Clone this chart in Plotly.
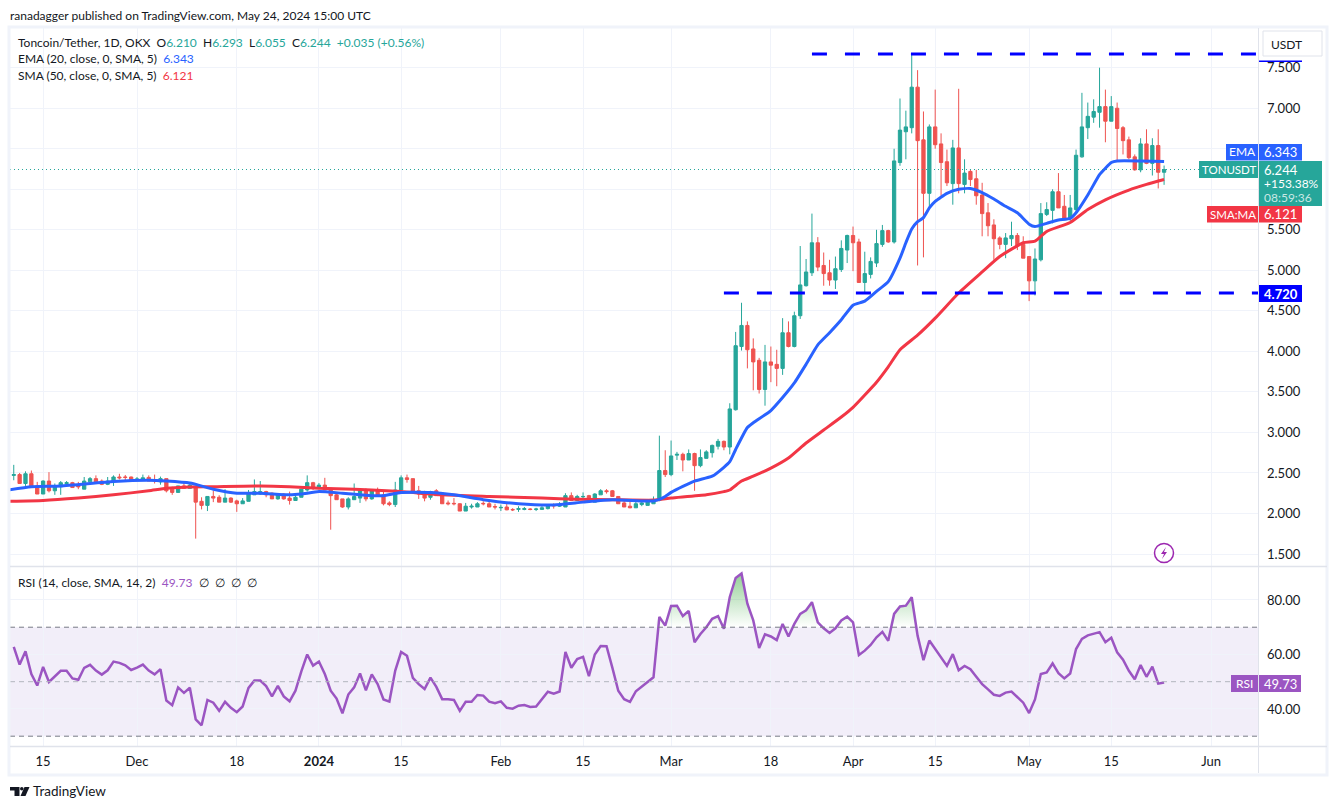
import pandas as pd
import plotly.graph_objects as go

W, H = 1337, 809
FONT = "Lato"
TEXT = "#131722"
UP = "#26a69a"
DOWN = "#ef5350"
BLUE = "#2962ff"
RED = "#f23645"
PURPLE = "#9b55c2"
GRID = "#f0f3fa"
EDGE = "#e0e3eb"

open_prices = [
    # Nov
    2.47, 2.48, 2.37, 2.49, 2.34, 2.24, 2.40, 2.28, 2.33, 2.37, 2.38, 2.34, 2.30, 2.39, 2.43, 2.40, 2.36, 2.39, 2.45, 2.45, 2.45,
    # Dec
    2.42, 2.42, 2.445, 2.415, 2.39, 2.43, 2.30, 2.26, 2.34, 2.31, 2.33, 2.15, 2.10, 2.21, 2.20, 2.14, 2.19, 2.155, 2.12, 2.15, 2.23, 2.24, 2.27, 2.25, 2.18, 2.24, 2.19, 2.16, 2.20, 2.29, 2.38,
    # Jan
    2.32, 2.35, 2.31, 2.23, 2.18, 2.08, 2.17, 2.19, 2.28, 2.18, 2.28, 2.23, 2.13, 2.11, 2.29, 2.44, 2.43, 2.28, 2.24, 2.20, 2.28, 2.23, 2.13, 2.125, 2.12, 2.03, 2.08, 2.08, 2.125, 2.12, 2.085,
    # Feb
    2.07, 2.08, 2.05, 2.05, 2.05, 2.055, 2.05, 2.05, 2.06, 2.10, 2.09, 2.08, 2.22, 2.16, 2.205, 2.22, 2.14, 2.23, 2.28, 2.28, 2.21, 2.13, 2.09, 2.07, 2.11, 2.10, 2.12, 2.16, 2.53,
    # Mar
    2.48, 2.72, 2.73, 2.66, 2.74, 2.59, 2.68, 2.75, 2.83, 2.89, 2.82, 3.28, 4.06, 4.32, 4.03, 3.89, 3.53, 3.87, 3.84, 3.79, 4.23, 4.06, 4.44, 4.81, 4.97, 5.34, 5.06, 4.97, 4.88, 5.01, 5.25,
    # Apr
    5.43, 5.35, 4.85, 4.95, 5.09, 5.32, 5.49, 5.35, 6.33, 6.71, 6.76, 7.26, 6.61, 5.95, 6.77, 6.56, 6.34, 6.07, 6.51, 6.06, 6.22, 6.13, 5.93, 5.71, 5.56, 5.40, 5.32, 5.39, 5.43, 5.32,
    # May
    5.17, 4.87, 5.13, 5.69, 5.74, 5.97, 5.79, 5.64, 5.75, 6.40, 6.76, 6.89, 6.95, 7.02, 6.84, 7.00, 6.76, 6.61, 6.40, 6.24, 6.56, 6.32, 6.54, 6.21,
]
high_prices = [
    2.60, 2.50, 2.52, 2.53, 2.39, 2.41, 2.51, 2.37, 2.40, 2.40, 2.39, 2.39, 2.45, 2.45, 2.47, 2.42, 2.45, 2.47, 2.49, 2.475, 2.455,
    2.45, 2.48, 2.47, 2.48, 2.455, 2.43, 2.33, 2.34, 2.38, 2.375, 2.33, 2.20, 2.21, 2.28, 2.225, 2.30, 2.20, 2.17, 2.19, 2.29, 2.42, 2.40, 2.28, 2.26, 2.25, 2.25, 2.27, 2.23, 2.30, 2.47, 2.39,
    2.375, 2.44, 2.31, 2.25, 2.18, 2.20, 2.37, 2.30, 2.31, 2.30, 2.32, 2.27, 2.15, 2.39, 2.47, 2.48, 2.43, 2.34, 2.28, 2.28, 2.30, 2.25, 2.16, 2.19, 2.125, 2.13, 2.12, 2.14, 2.15, 2.15, 2.12,
    2.11, 2.12, 2.065, 2.09, 2.08, 2.065, 2.07, 2.09, 2.11, 2.125, 2.14, 2.25, 2.26, 2.23, 2.26, 2.23, 2.25, 2.30, 2.30, 2.29, 2.21, 2.17, 2.145, 2.17, 2.16, 2.17, 2.21, 2.96, 2.78,
    2.90, 2.76, 2.75, 2.79, 2.75, 2.79, 2.78, 2.85, 2.92, 2.90, 3.36, 4.24, 4.60, 4.37, 4.16, 3.92, 4.08, 4.06, 4.02, 4.41, 4.37, 4.49, 5.30, 5.14, 5.70, 5.41, 5.22, 5.13, 5.17, 5.37, 5.44,
    5.54, 5.39, 5.23, 5.16, 5.50, 5.56, 5.50, 6.50, 7.12, 6.97, 7.68, 7.47, 6.96, 6.80, 7.23, 6.69, 6.49, 6.61, 7.24, 6.37, 6.25, 6.24, 6.08, 5.83, 5.63, 5.42, 5.46, 5.60, 5.46, 5.42,
    5.17, 5.27, 5.83, 5.84, 6.00, 6.20, 5.93, 5.93, 6.49, 7.19, 7.07, 7.11, 7.50, 7.23, 7.15, 7.07, 6.78, 6.65, 6.43, 6.63, 6.74, 6.63, 6.74, 6.293,
]
low_prices = [
    2.41, 2.37, 2.34, 2.33, 2.24, 2.24, 2.26, 2.23, 2.23, 2.34, 2.32, 2.30, 2.30, 2.38, 2.38, 2.35, 2.35, 2.34, 2.42, 2.41, 2.40,
    2.41, 2.42, 2.40, 2.37, 2.355, 2.26, 2.23, 2.26, 2.31, 2.31, 1.69, 2.05, 2.03, 2.14, 2.14, 2.14, 2.13, 2.02, 2.12, 2.15, 2.23, 2.23, 2.20, 2.18, 2.17, 2.17, 2.11, 2.16, 2.20, 2.27, 2.29,
    2.30, 2.29, 1.80, 2.17, 2.07, 2.05, 2.17, 2.13, 2.15, 2.17, 2.21, 2.10, 2.09, 2.08, 2.29, 2.38, 2.27, 2.18, 2.15, 2.17, 2.22, 2.12, 2.10, 2.10, 2.03, 2.03, 2.06, 2.08, 2.10, 2.08, 2.05,
    2.03, 2.04, 2.03, 2.02, 2.04, 2.04, 2.03, 2.05, 2.05, 2.06, 2.08, 2.08, 2.16, 2.16, 2.18, 2.14, 2.14, 2.23, 2.245, 2.21, 2.12, 2.08, 2.065, 2.07, 2.09, 2.10, 2.12, 2.15, 2.45,
    2.46, 2.66, 2.52, 2.66, 2.28, 2.57, 2.68, 2.69, 2.79, 2.78, 2.73, 3.27, 4.01, 3.79, 3.52, 3.48, 3.33, 3.62, 3.57, 3.71, 4.05, 4.05, 4.40, 4.80, 4.93, 4.99, 4.81, 4.81, 4.77, 4.98, 5.09,
    4.99, 4.85, 4.72, 4.90, 5.04, 5.29, 5.34, 5.33, 6.29, 6.37, 6.69, 5.06, 5.16, 5.76, 6.50, 5.92, 6.04, 5.81, 5.95, 5.95, 6.04, 5.81, 5.42, 5.42, 5.13, 5.26, 5.15, 5.30, 5.25, 5.15,
    4.62, 4.69, 5.11, 5.67, 5.58, 5.77, 5.62, 5.61, 5.71, 6.39, 6.62, 6.82, 6.76, 6.58, 6.84, 6.34, 6.43, 6.37, 6.23, 6.21, 6.31, 6.17, 6.01, 6.055,
]
close_prices = [
    2.48, 2.37, 2.49, 2.33, 2.24, 2.40, 2.28, 2.34, 2.38, 2.38, 2.32, 2.33, 2.40, 2.43, 2.39, 2.36, 2.40, 2.45, 2.44, 2.445, 2.40,
    2.425, 2.44, 2.40, 2.405, 2.43, 2.28, 2.26, 2.34, 2.31, 2.35, 2.14, 2.10, 2.21, 2.19, 2.14, 2.19, 2.14, 2.12, 2.155, 2.24, 2.27, 2.27, 2.23, 2.18, 2.24, 2.18, 2.16, 2.20, 2.30, 2.38, 2.32,
    2.35, 2.29, 2.22, 2.17, 2.08, 2.18, 2.21, 2.28, 2.18, 2.28, 2.22, 2.12, 2.11, 2.29, 2.44, 2.42, 2.27, 2.24, 2.19, 2.27, 2.22, 2.12, 2.12, 2.12, 2.03, 2.09, 2.09, 2.12, 2.12, 2.08, 2.08,
    2.075, 2.045, 2.045, 2.06, 2.06, 2.05, 2.055, 2.07, 2.10, 2.095, 2.105, 2.22, 2.16, 2.21, 2.21, 2.15, 2.24, 2.28, 2.27, 2.21, 2.12, 2.08, 2.07, 2.12, 2.13, 2.15, 2.17, 2.53, 2.48,
    2.71, 2.73, 2.66, 2.74, 2.59, 2.69, 2.76, 2.84, 2.89, 2.82, 3.29, 4.07, 4.32, 4.02, 3.87, 3.53, 3.87, 3.83, 3.79, 4.23, 4.06, 4.44, 4.82, 4.98, 5.34, 5.04, 4.96, 4.88, 5.02, 5.27, 5.43,
    5.34, 4.85, 4.96, 5.11, 5.33, 5.49, 5.35, 6.35, 6.73, 6.77, 7.26, 6.60, 5.95, 6.77, 6.55, 6.33, 6.08, 6.51, 6.07, 6.20, 6.12, 5.92, 5.70, 5.55, 5.39, 5.32, 5.40, 5.43, 5.30, 5.15,
    4.87, 5.14, 5.70, 5.75, 5.97, 5.77, 5.64, 5.77, 6.42, 6.77, 6.90, 6.96, 7.02, 6.84, 7.02, 6.75, 6.60, 6.39, 6.24, 6.56, 6.32, 6.54, 6.21, 6.244,
]
rsi_values = [
    62.8, 56.3, 61.2, 52.8, 48.6, 55.4, 49.9, 52.0, 54.0, 54.0, 51.2, 50.7, 55.1, 56.2, 54.1, 52.6, 54.2, 57.4, 56.9, 56.0, 54.3,
    55.2, 56.3, 54.1, 52.7, 54.6, 43.1, 41.4, 47.9, 45.9, 47.8, 36.2, 34.0, 43.3, 42.3, 39.3, 42.6, 40.4, 38.8, 40.9, 47.7, 50.4, 50.4, 48.4, 44.6, 48.5, 44.6, 42.8, 46.7, 53.8, 60.0, 55.9,
    57.4, 52.8, 46.7, 43.8, 38.4, 45.3, 47.9, 53.0, 46.8, 52.7, 49.1, 43.5, 42.7, 54.1, 60.9, 59.5, 51.4, 49.1, 47.3, 51.5, 48.1, 43.6, 43.6, 43.3, 39.3, 42.6, 42.6, 45.1, 44.9, 42.7, 42.1,
    42.8, 40.4, 40.1, 41.2, 41.4, 40.7, 40.9, 43.7, 46.3, 45.6, 46.4, 60.9, 55.1, 58.3, 59.1, 52.0, 60.0, 63.1, 63.0, 55.1, 46.7, 43.6, 42.6, 46.5, 48.3, 49.9, 51.6, 73.8, 70.6,
    77.8, 77.9, 74.1, 76.0, 64.5, 67.5, 70.0, 73.1, 74.1, 69.4, 81.1, 88.1, 89.7, 78.6, 72.5, 62.4, 67.4, 66.6, 65.3, 71.2, 66.6, 71.2, 74.9, 76.2, 79.2, 71.8, 69.6, 67.9, 69.6, 72.5, 73.9,
    71.8, 59.8, 61.4, 63.5, 66.3, 68.3, 65.0, 74.9, 77.6, 77.9, 81.0, 66.9, 57.9, 65.1, 62.0, 58.9, 55.8, 60.1, 54.2, 55.8, 54.6, 51.8, 49.1, 47.2, 45.2, 44.8, 46.0, 46.4, 44.5, 42.3,
    38.5, 43.5, 52.8, 53.4, 56.7, 53.1, 51.2, 53.0, 62.0, 65.7, 67.0, 67.5, 68.2, 64.5, 66.1, 60.8, 58.1, 54.0, 50.9, 56.1, 51.8, 55.5, 49.3, 49.73,
]
candle_dates = pd.date_range("2023-11-10", "2024-05-24", freq="D")
assert len(candle_dates) == len(open_prices) == len(high_prices) == len(low_prices) == len(close_prices) == len(rsi_values)

ema_dates = ["2023-11-09", "2023-11-13", "2023-11-18", "2023-11-27", "2023-12-03", "2023-12-06", "2023-12-10", "2023-12-14",
             "2023-12-18", "2023-12-22", "2023-12-27", "2023-12-29", "2024-01-01", "2024-01-05", "2024-01-10", "2024-01-12",
             "2024-01-15", "2024-01-20", "2024-01-24", "2024-01-29", "2024-02-04", "2024-02-10", "2024-02-15", "2024-02-20",
             "2024-02-25", "2024-02-27", "2024-02-28", "2024-02-29", "2024-03-01", "2024-03-03", "2024-03-05", "2024-03-08",
             "2024-03-10", "2024-03-11", "2024-03-12", "2024-03-14", "2024-03-15", "2024-03-18", "2024-03-20", "2024-03-22",
             "2024-03-24", "2024-03-26", "2024-03-28", "2024-03-30", "2024-04-01", "2024-04-03", "2024-04-05", "2024-04-07",
             "2024-04-09", "2024-04-10", "2024-04-11", "2024-04-12", "2024-04-13", "2024-04-14", "2024-04-15", "2024-04-17",
             "2024-04-19", "2024-04-21", "2024-04-23", "2024-04-25", "2024-04-27", "2024-04-29", "2024-05-01", "2024-05-02",
             "2024-05-04", "2024-05-06", "2024-05-08", "2024-05-09", "2024-05-11", "2024-05-13", "2024-05-14", "2024-05-15",
             "2024-05-16", "2024-05-20", "2024-05-24"]
ema_values = [2.29, 2.33, 2.34, 2.395, 2.41, 2.40, 2.375, 2.30,
              2.25, 2.25, 2.23, 2.24, 2.27, 2.25, 2.22, 2.22,
              2.26, 2.26, 2.23, 2.17, 2.12, 2.105, 2.14, 2.17,
              2.155, 2.155, 2.175, 2.21, 2.26, 2.335, 2.40, 2.46,
              2.57, 2.64, 2.79, 3.06, 3.12, 3.27, 3.43, 3.61,
              3.84, 4.08, 4.23, 4.39, 4.57, 4.62, 4.74, 4.86,
              5.15, 5.34, 5.51, 5.60, 5.65, 5.77, 5.85, 5.95,
              6.00, 6.01, 5.96, 5.88, 5.79, 5.71, 5.57, 5.54,
              5.58, 5.62, 5.64, 5.71, 5.93, 6.18, 6.26, 6.33,
              6.35, 6.35, 6.343]

sma_dates = ["2023-11-09", "2023-11-15", "2023-11-21", "2023-11-27", "2023-12-03", "2023-12-06", "2023-12-09", "2023-12-14",
             "2023-12-22", "2023-12-27", "2024-01-01", "2024-01-04", "2024-01-10", "2024-01-15", "2024-01-22", "2024-01-30",
             "2024-02-08", "2024-02-14", "2024-02-20", "2024-02-27", "2024-03-01", "2024-03-07", "2024-03-10", "2024-03-11",
             "2024-03-13", "2024-03-15", "2024-03-18", "2024-03-21", "2024-03-24", "2024-03-27", "2024-03-30", "2024-04-01",
             "2024-04-05", "2024-04-07", "2024-04-09", "2024-04-12", "2024-04-15", "2024-04-19", "2024-04-23", "2024-04-26",
             "2024-04-30", "2024-05-02", "2024-05-04", "2024-05-08", "2024-05-11", "2024-05-14", "2024-05-18", "2024-05-21",
             "2024-05-24"]
sma_values = [2.15, 2.16, 2.19, 2.23, 2.28, 2.31, 2.325, 2.33,
              2.34, 2.33, 2.31, 2.305, 2.29, 2.27, 2.23, 2.21,
              2.19, 2.175, 2.17, 2.165, 2.19, 2.23, 2.27, 2.29,
              2.40, 2.46, 2.56, 2.685, 2.87, 3.03, 3.19, 3.31,
              3.62, 3.81, 4.02, 4.20, 4.41, 4.72, 4.98, 5.17,
              5.34, 5.36, 5.48, 5.59, 5.75, 5.87, 5.99, 6.06,
              6.121]

resistance_dates = ["2024-03-25", "2024-06-09"]
resistance_level = [7.67, 7.67]
support_dates = ["2024-03-10", "2024-06-09"]
support_level = [4.72, 4.72]

price_ticks = [1.5, 2.0, 2.5, 3.0, 3.5, 4.0, 4.5, 5.0, 5.5, 6.0, 6.5, 7.0, 7.5]
price_tick_labels = ["1.500", "2.000", "2.500", "3.000", "3.500", "4.000", "4.500", "5.000", "5.500", "", "", "7.000", "7.500"]
rsi_ticks = [40, 60, 80]
rsi_tick_labels = ["40.00", "60.00", "80.00"]
date_ticks = ["2023-11-15", "2023-12-01", "2023-12-18", "2024-01-01", "2024-01-15", "2024-02-01", "2024-02-15",
              "2024-03-01", "2024-03-18", "2024-04-01", "2024-04-15", "2024-05-01", "2024-05-15", "2024-06-01"]
date_tick_labels = ["15", "Dec", "18", "<b>2024</b>", "15", "Feb", "15", "Mar", "18", "Apr", "15", "May", "15", "Jun"]


def px(x):
    return x / W


def py(y):
    return 1 - y / H


def box(x0, y0, x1, y1, fill, line=None, width=0):
    return dict(type="rect", xref="paper", yref="paper", x0=px(x0), x1=px(x1), y0=py(y0), y1=py(y1),
                fillcolor=fill, line=dict(color=line or fill, width=width), layer="above")


def poly(points, fill):
    path = "M" + " L".join(f"{px(a):.5f},{py(b):.5f}" for a, b in points) + " Z"
    return dict(type="path", xref="paper", yref="paper", path=path, fillcolor=fill, line=dict(width=0), layer="above")


def label(x, y, text, color=TEXT, size=12, anchor="left"):
    return dict(xref="paper", yref="paper", x=px(x), y=py(y), text=text, showarrow=False, xanchor=anchor, yanchor="middle",
                font=dict(family=FONT, size=size, color=color), borderpad=0, borderwidth=0)


def tint(color, text):
    return f'<span style="color:{color}">{text}</span>'


fig = go.Figure()

fig.add_trace(go.Candlestick(x=candle_dates, open=open_prices, high=high_prices, low=low_prices, close=close_prices,
                             increasing=dict(line=dict(color=UP, width=1), fillcolor=UP),
                             decreasing=dict(line=dict(color=DOWN, width=1), fillcolor=DOWN),
                             whiskerwidth=0, showlegend=False, yaxis="y"))
fig.add_trace(go.Scatter(x=sma_dates, y=sma_values, mode="lines", line=dict(color=RED, width=3, shape="spline", smoothing=0.5),
                         showlegend=False, yaxis="y"))
fig.add_trace(go.Scatter(x=ema_dates, y=ema_values, mode="lines", line=dict(color=BLUE, width=3, shape="spline", smoothing=0.5),
                         showlegend=False, yaxis="y"))
for xs, ys in ((resistance_dates, resistance_level), (support_dates, support_level)):
    fig.add_trace(go.Scatter(x=xs, y=ys, mode="lines", line=dict(color="#0000ff", width=3, dash="15px,18px"),
                             showlegend=False, yaxis="y"))

# green glow above the 70 line
fig.add_trace(go.Scatter(x=candle_dates, y=[70] * len(rsi_values), mode="lines", line=dict(width=0), showlegend=False, yaxis="y2"))
fig.add_trace(go.Scatter(x=candle_dates, y=[max(v, 70) for v in rsi_values], mode="lines", line=dict(width=0), fill="tonexty",
                         fillgradient=dict(type="vertical", colorscale=[[0, "rgba(76,175,80,0)"], [1, "rgba(76,175,80,0.6)"]]),
                         showlegend=False, yaxis="y2"))
fig.add_trace(go.Scatter(x=candle_dates, y=rsi_values, mode="lines", line=dict(color=PURPLE, width=2.5),
                         showlegend=False, yaxis="y2"))

shapes = [
    # rsi band and its dashed levels
    dict(type="rect", xref="x domain", yref="y2", x0=0, x1=1, y0=30, y1=70, fillcolor="rgba(126,87,194,0.1)", line=dict(width=0), layer="below"),
    dict(type="line", xref="x domain", yref="y2", x0=0, x1=1, y0=70, y1=70, line=dict(color="#787b86", width=1, dash="5px,4px")),
    dict(type="line", xref="x domain", yref="y2", x0=0, x1=1, y0=50, y1=50, line=dict(color="#b2b5be", width=1, dash="5px,4px")),
    dict(type="line", xref="x domain", yref="y2", x0=0, x1=1, y0=30, y1=30, line=dict(color="#787b86", width=1, dash="5px,4px")),
    # last price line
    dict(type="line", xref="x domain", yref="y", x0=0, x1=1, y0=6.244, y1=6.244, line=dict(color=UP, width=1, dash="1px,3px")),
    # frame
    dict(type="rect", xref="paper", yref="paper", x0=px(9), x1=px(1327), y0=py(775), y1=py(27), line=dict(color=GRID, width=3), layer="above"),
    dict(type="line", xref="paper", yref="paper", x0=px(10), x1=px(1327), y0=py(566.5), y1=py(566.5), line=dict(color=EDGE, width=1.5), layer="above"),
    dict(type="line", xref="paper", yref="paper", x0=px(10), x1=px(1327), y0=py(746.5), y1=py(746.5), line=dict(color=EDGE, width=1.5), layer="above"),
    dict(type="line", xref="paper", yref="paper", x0=px(1258.5), x1=px(1258.5), y0=py(773), y1=py(28), line=dict(color=EDGE, width=1), layer="above"),
    # price axis tags
    box(1259, 60.5, 1302, 62, "#0000ff"),
    dict(type="rect", xref="paper", yref="paper", x0=px(1263), x1=px(1322), y0=py(56), y1=py(31), fillcolor="white", line=dict(color=EDGE, width=1), layer="above"),
    box(1226, 144, 1258, 160.5, BLUE),
    box(1259, 144, 1302, 160.5, BLUE),
    box(1199, 161, 1258, 178, UP),
    box(1259, 161, 1322, 206, UP),
    box(1207, 206, 1258, 222.5, RED),
    box(1259, 206, 1302, 222.5, RED),
    box(1259, 285, 1302, 302, "#0000ff"),
    box(1231, 675, 1258, 692, PURPLE),
    box(1259, 675, 1301, 692, PURPLE),
    # flash icon
    dict(type="circle", xref="paper", yref="paper", x0=px(1154.5), x1=px(1173.5), y0=py(562.5), y1=py(543.5), fillcolor="white", line=dict(color="#9c27b0", width=1.5), layer="above"),
    poly([(1166, 547), (1161, 554), (1164, 554), (1162, 559), (1167, 552), (1164, 552)], "#9c27b0"),
    # logo
    poly([(10, 787), (19.5, 787), (19.5, 796), (14.5, 796), (14.5, 790.5), (10, 790.5)], TEXT),
    dict(type="circle", xref="paper", yref="paper", x0=px(20), x1=px(23.6), y0=py(790.6), y1=py(787), fillcolor=TEXT, line=dict(width=0), layer="above"),
    poly([(24.5, 787), (29.5, 787), (25.5, 796), (20.5, 796)], TEXT),
]

green = "#26a69a"
annotations = [
    label(10, 15, "ranadagger published on TradingView.com, May 24, 2024 15:00 UTC", size=12),
    label(18, 42, "Toncoin/Tether, 1D, OKX  O" + tint(green, "6.210") + "  H" + tint(green, "6.293") + "  L" + tint(green, "6.055")
          + "  C" + tint(green, "6.244") + "  " + tint(green, "+0.035 (+0.56%)"), size=12),
    label(18, 59, "EMA (20, close, 0, SMA, 5)  " + tint(BLUE, "6.343"), size=12),
    label(18, 75, "SMA (50, close, 0, SMA, 5)  " + tint(RED, "6.121"), size=12),
    label(18, 582, "RSI (14, close, SMA, 14, 2)  " + tint(PURPLE, "49.73") + "  ∅  ∅  ∅  ∅", size=12),
    label(33, 791, "TradingView", size=13.5),
    label(1286, 44, "USDT", anchor="center", size=12),
    label(1242, 152, "EMA", "white", 12, "center"),
    label(1264, 152, "6.343", "white", 13),
    label(1228.5, 169.5, "TONUSDT", "white", 11.5, "center"),
    label(1264, 169.5, "6.244", "white", 13),
    label(1264, 183.5, "+153.38%", "white", 12),
    label(1264, 197.5, "08:59:36", "rgba(255,255,255,0.75)", 12),
    label(1232.5, 214, "SMA:MA", "white", 11.5, "center"),
    label(1264, 214, "6.121", "white", 13),
    label(1264, 293.5, "<b>4.720</b>", "white", 13),
    label(1244.5, 683.5, "RSI", "white", 12, "center"),
    label(1264, 683.5, "49.73", "white", 13),
]

fig.update_layout(
    width=W, height=H, autosize=False, margin=dict(l=0, r=0, t=0, b=0), paper_bgcolor="white", plot_bgcolor="white",
    font=dict(family=FONT, size=12, color=TEXT), showlegend=False, boxgap=0.2, hovermode=False,
    xaxis=dict(domain=[px(10), px(1258)], type="date", range=["2023-11-09 08:38", "2024-06-09 00:00"], anchor="y2",
               rangeslider=dict(visible=False), tickvals=date_ticks, ticktext=date_tick_labels, tickangle=0,
               ticks="", showgrid=True, gridcolor=GRID, gridwidth=1, zeroline=False, showline=False,
               tickfont=dict(family=FONT, size=13, color=TEXT), ticklabelstandoff=6),
    yaxis=dict(domain=[py(566), py(28)], range=[1.352, 7.99], side="right", anchor="x", tickvals=price_ticks, ticktext=price_tick_labels,
               ticks="", showgrid=True, gridcolor=GRID, gridwidth=1, zeroline=False, showline=False,
               tickfont=dict(family=FONT, size=13, color=TEXT), ticklabelstandoff=8),
    yaxis2=dict(domain=[py(746), py(567)], range=[26.4, 92.1], side="right", anchor="x", tickvals=rsi_ticks, ticktext=rsi_tick_labels,
                ticks="", showgrid=True, gridcolor=GRID, gridwidth=1, zeroline=False, showline=False,
                tickfont=dict(family=FONT, size=13, color=TEXT), ticklabelstandoff=8),
    shapes=shapes, annotations=annotations,
)

fig.write_html("out.html", config=dict(displayModeBar=False), post_script="document.body.style.margin='0';")
